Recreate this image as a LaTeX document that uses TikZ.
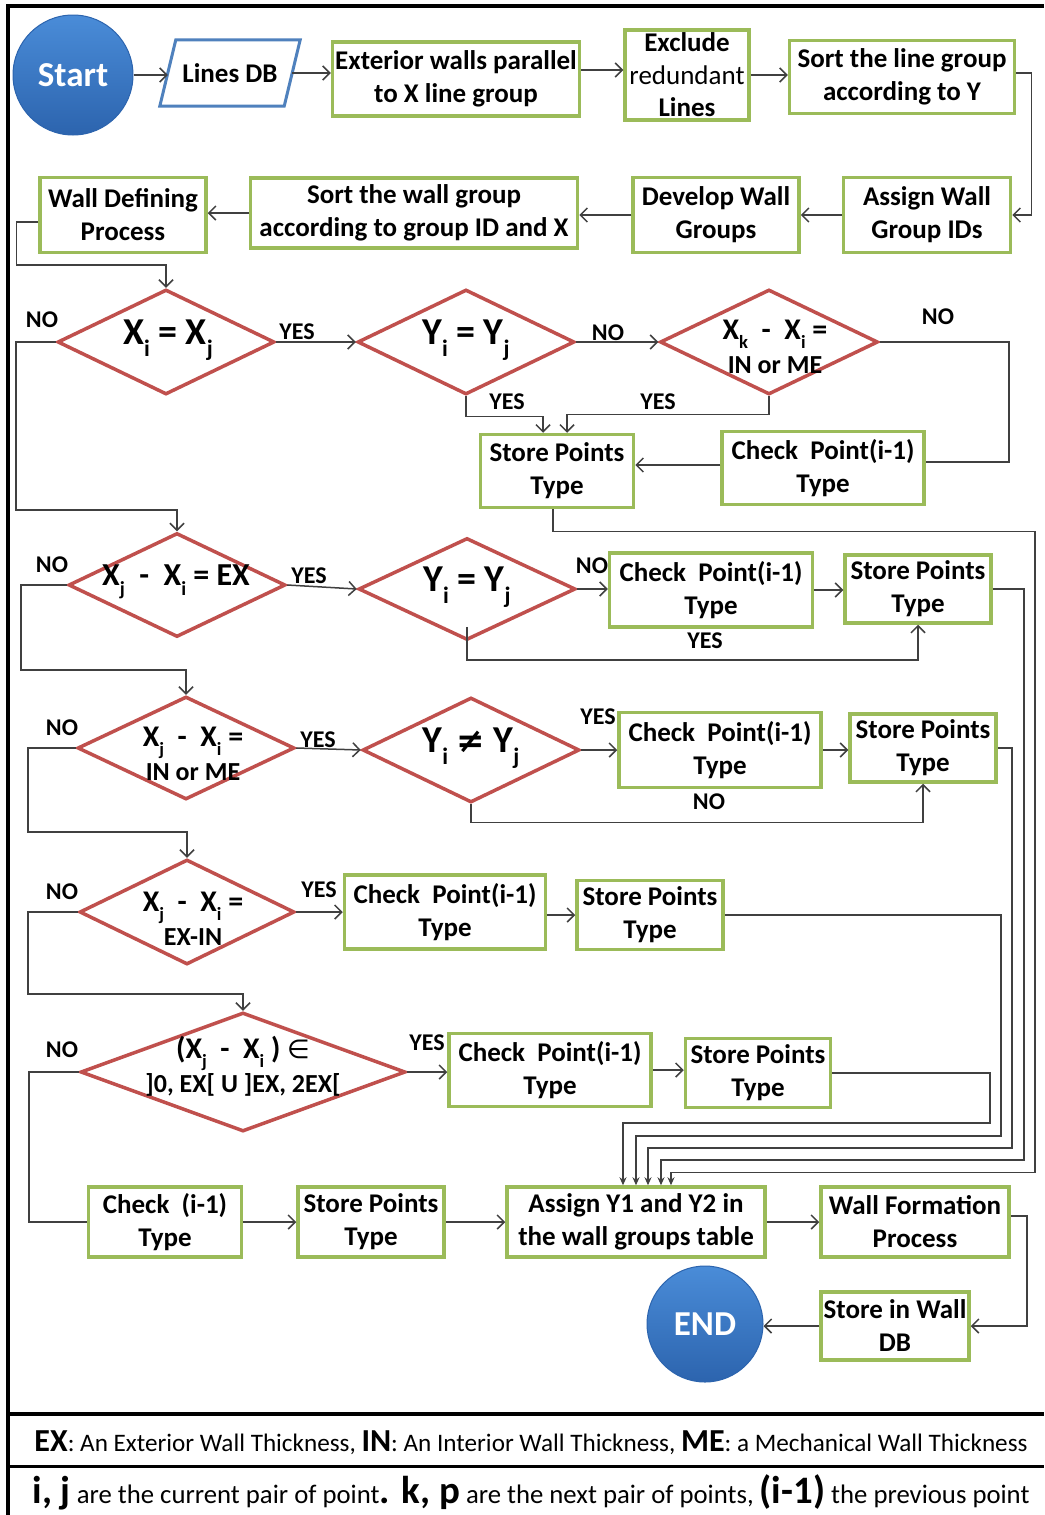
\documentclass[tikz,border=0pt]{standalone}
\usepackage{fontspec}
\setmainfont{Carlito}
\newfontfamily\symfont{DejaVu Sans}
\usepackage{graphicx}
\usetikzlibrary{shapes.geometric,arrows.meta,calc}
\definecolor{bgreen}{HTML}{9BBB59}
\definecolor{dred}{HTML}{C0504D}
\definecolor{pblue}{HTML}{4F81BD}
\definecolor{lineg}{HTML}{404040}
\definecolor{ctop}{HTML}{4A8CD8}
\definecolor{cbot}{HTML}{2C64AE}
\newcommand{\sbs}[1]{\raisebox{-0.3em}{\scalebox{0.62}{#1}}}
\newcommand{\bxfont}{\fontsize{27}{33}\selectfont\bfseries}
\begin{document}
\begin{tikzpicture}[x=1pt,y=-1pt,
  box/.style={draw=bgreen, line width=3.5pt, fill=white, inner sep=0.5pt, align=center, font=\bxfont, text=black},
  dia/.style={diamond, draw=dred, line width=3.5pt, inner sep=0pt, fill=white},
  dtext/.style={align=center, inner sep=0pt, text=black},
  lbl/.style={font=\fontsize{24}{28}\selectfont\bfseries, inner sep=0pt, text=black},
  arr/.style={draw=lineg, line width=1.5pt, -{Straight Barb[length=7pt,width=14pt]}},
  ln/.style={draw=lineg, line width=1.5pt},
  marr/.style={draw=lineg, line width=1.5pt, -{Stealth[length=8pt,width=7pt]}},
  circ/.style={circle, inner sep=0pt, minimum size=#1, top color=ctop, bottom color=cbot, draw=cbot, line width=1pt, text=white, font=\fontsize{35}{40}\selectfont\bfseries},
  frame/.style={draw=black, line width=4pt}
]
\useasboundingbox (0,0) rectangle (1044,1515);
\fill[white] (0,0) rectangle (1044,1515);

% frame
\draw[frame] (8,1515) -- (8,6) -- (1044,6);
\draw[frame] (8,1414) -- (1044,1414);
\draw[draw=black, line width=3pt] (8,1466) -- (1044,1466);

% row 1
\node[circ=120] (start) at (73,75) {Start};
\node[inner sep=0pt, minimum width=124pt, minimum height=66pt, font=\bxfont] (ldb) at (230,73) {Lines DB};
\draw[draw=pblue, line width=3pt] ([xshift=8pt]ldb.north west) -- ([xshift=8pt]ldb.north east) -- ([xshift=-8pt]ldb.south east) -- ([xshift=-8pt]ldb.south west) -- cycle;
\node[box, minimum width=247pt, minimum height=74pt] (ext) at (456,79) {Exterior walls parallel\\to X line group};
\node[box, minimum width=124pt, minimum height=90pt, font=\fontsize{27}{32.5}\selectfont\bfseries] (excl) at (687,75) {Exclude\\\mdseries redundant\\Lines};
\node[box, minimum width=225pt, minimum height=73pt] (sortY) at (902,77) {Sort the line group\\according to Y};

% row 2
\node[box, minimum width=166pt, minimum height=75pt] (wdp) at (123,215) {Wall Defining\\Process};
\node[box, minimum width=327pt, minimum height=70pt] (sortW) at (414,213) {Sort the wall group\\according to group ID and X};
\node[box, minimum width=166pt, minimum height=75pt] (dev) at (716,215) {Develop Wall\\Groups};
\node[box, minimum width=167pt, minimum height=75pt] (assignID) at (927,215) {Assign Wall\\Group IDs};

% row 3
\node[dia, minimum width=217pt, minimum height=105pt] (d1) at (166,342) {};
\node[dtext, font=\fontsize{38}{40}\selectfont\bfseries] (d1t) at (168,340) {X\sbs{i} = X\sbs{j}};
\node[dia, minimum width=217pt, minimum height=105pt] (d2) at (466,342) {};
\node[dtext, font=\fontsize{38}{40}\selectfont\bfseries] (d2t) at (466,340) {Y\sbs{i} = Y\sbs{j}};
\node[dia, minimum width=218pt, minimum height=105pt] (d3) at (769,342) {};
\node[dtext, font=\fontsize{30}{34}\selectfont\bfseries] (d3t) at (775,347) {X\sbs{k}\ \ -\ \ X\sbs{i} =\\\fontsize{26}{30}\selectfont IN or ME};
\node[box, minimum width=153pt, minimum height=73pt] (st1) at (557,471) {Store Points\\Type};
\node[box, minimum width=202pt, minimum height=73pt] (chk1) at (823,468) {Check\ \ Point(i-1)\\Type};

% row 4
\node[dia, minimum width=217pt, minimum height=104pt] (d4) at (177,585) {};
\node[dtext, font=\fontsize{32}{36}\selectfont\bfseries] (d4t) at (176,582) {X\sbs{j}\ \ -\ \ X\sbs{i} = EX};
\node[dia, minimum width=217pt, minimum height=102pt] (d5) at (467,589) {};
\node[dtext, font=\fontsize{38}{40}\selectfont\bfseries] (d5t) at (467,587) {Y\sbs{i} = Y\sbs{j}};
\node[box, minimum width=203pt, minimum height=74pt] (chk2) at (711,590) {Check\ \ Point(i-1)\\Type};
\node[box, minimum width=146pt, minimum height=68pt] (st2) at (918,589) {Store Points\\Type};

% row 5
\node[dia, minimum width=217pt, minimum height=103pt] (d6) at (186,748) {};
\node[dtext, font=\fontsize{30}{34}\selectfont\bfseries] (d6t) at (193,754) {X\sbs{j}\ \ -\ \ X\sbs{i} =\\\fontsize{26}{30}\selectfont IN or ME};
\node[dia, minimum width=217pt, minimum height=105pt] (d7) at (471,750) {};
\node[dtext, font=\fontsize{38}{40}\selectfont\bfseries] (d7t) at (471,748) {Y\sbs{i} {\symfont\bfseries\fontsize{34}{40}\selectfont ≠} Y\sbs{j}};
\node[box, minimum width=202pt, minimum height=75pt] (chk3) at (720,750) {Check\ \ Point(i-1)\\Type};
\node[box, minimum width=146pt, minimum height=68pt] (st3) at (923,748) {Store Points\\Type};

% row 6
\node[dia, minimum width=215pt, minimum height=105pt] (d8) at (187,912) {};
\node[dtext, font=\fontsize{30}{34}\selectfont\bfseries] (d8t) at (193,919) {X\sbs{j}\ \ -\ \ X\sbs{i} =\\\fontsize{26}{30}\selectfont EX-IN};
\node[box, minimum width=201pt, minimum height=74pt] (chk4) at (445,912) {Check\ \ Point(i-1)\\Type};
\node[box, minimum width=146pt, minimum height=69pt] (st4) at (650,915) {Store Points\\Type};

% row 7
\node[dia, minimum width=325pt, minimum height=119pt] (d9) at (243,1072) {};
\node[dtext, font=\fontsize{30}{34}\selectfont\bfseries] (d9t) at (243,1066) {(X\sbs{j}\ \ -\ \ X\sbs{i} ) {\symfont\mdseries\fontsize{26}{30}\selectfont ∈}\\\fontsize{26}{30}\selectfont ]0, EX[ U ]EX, 2EX[};
\node[box, minimum width=202pt, minimum height=73pt] (chk5) at (550,1070) {Check\ \ Point(i-1)\\Type};
\node[box, minimum width=145pt, minimum height=69pt] (st5) at (758,1073) {Store Points\\Type};

% row 8
\node[box, minimum width=153pt, minimum height=70pt] (chk6) at (165,1222) {Check\ \ (i-1)\\Type};
\node[box, minimum width=146pt, minimum height=70pt] (st6) at (371,1222) {Store Points\\Type};
\node[box, minimum width=258pt, minimum height=70pt] (assign) at (636,1222) {Assign Y1 and Y2 in\\the wall groups table};
\node[box, minimum width=188pt, minimum height=70pt] (wfp) at (915,1222) {Wall Formation\\Process};
\node[box, minimum width=148pt, minimum height=68pt] (sdb) at (895,1326) {Store in Wall\\DB};
\node[circ=116] (endc) at (705,1324) {END};

% labels
\node[lbl] (n1) at (42,320) {NO};
\node[lbl] (y1) at (297,332) {YES};
\node[lbl] (n2) at (608,333) {NO};
\node[lbl] (n3) at (938,317) {NO};
\node[lbl] (y2) at (507,402) {YES};
\node[lbl] (y3) at (658,402) {YES};
\node[lbl] (n4) at (52,565) {NO};
\node[lbl] (y4) at (309,576) {YES};
\node[lbl] (n5) at (592,566) {NO};
\node[lbl] (y5) at (705,641) {YES};
\node[lbl] (n6) at (62,728) {NO};
\node[lbl] (y6) at (318,740) {YES};
\node[lbl] (y7) at (598,717) {YES};
\node[lbl] (n7) at (709,802) {NO};
\node[lbl] (n8) at (62,892) {NO};
\node[lbl] (y8) at (319,890) {YES};
\node[lbl] (n9) at (62,1050) {NO};
\node[lbl] (y9) at (427,1043) {YES};

% connectors row 1-2
\draw[arr] (start.east) -- (start.east -| ldb.west);
\draw[arr] (ldb.east) -- (ldb.east -| ext.west);
\draw[arr] ([yshift=9pt]ext.east) -- ([yshift=9pt]ext.east -| excl.west);
\draw[arr] (excl.east) -- (excl.east -| sortY.west);
\draw[arr] ([yshift=4pt]sortY.east) -- ++(15,0) |- (assignID.east);
\draw[arr] (assignID.west) -- (assignID.west -| dev.east);
\draw[arr] (dev.west) -- (dev.west -| sortW.east);
\draw[arr] (sortW.west) -- (sortW.west -| wdp.east);
\draw[arr] ([yshift=-7pt]wdp.west) -- ++(-22,0) -- ++(0,43) -| (d1.north);

% row 3
\draw[arr] (d1.east) -- (d2.west);
\draw[arr] (d2.east) -- (d3.west);
\draw[ln] (d3.east) -- ++(129,0) |- ([yshift=6pt]chk1.east);
\draw[arr] (d2.south) -- ++(0,20) -| ([xshift=-14pt]st1.north);
\draw[arr] (d3.south) -- ++(0,18) -| ([xshift=10pt]st1.north);
\draw[arr] ([yshift=3pt]chk1.west) -- ([yshift=3pt]chk1.west -| st1.east);
\draw[arr] (d1.west) -- ++(-40,0) -- ++(0,168) -| (d4.north);

% row 4
\draw[arr] (d4.east) -- (d5.west);
\draw[arr] (d5.east) -- (d5.east -| chk2.west);
\draw[arr] (chk2.east) -- (chk2.east -| st2.west);
\draw[arr] ([yshift=15pt]d5.south) -- ++(0,33) -| (st2.south);
\draw[arr] (d4.west) -- ++(-46,0) -- ++(0,85) -| (d6.north);

% row 5
\draw[arr] (d6.east) -- (d7.west);
\draw[arr] (d7.east) -- (d7.east -| chk3.west);
\draw[arr] (chk3.east) -- (chk3.east -| st3.west);
\draw[arr] (d7.south) -- ++(0,18) -| (st3.south);
\draw[arr] (d6.west) -- ++(-48,0) -- ++(0,84) -| (d8.north);

% row 6
\draw[arr] (d8.east) -- (d8.east -| chk4.west);
\draw[arr] ([yshift=-3pt]chk4.east) -- ([yshift=-3pt]chk4.east -| st4.west);
\draw[arr] (d8.west) -- ++(-50,0) -- ++(0,82) -| (d9.north);

% row 7
\draw[arr] (d9.east) -- (d9.east -| chk5.west);
\draw[arr] (chk5.east) -- (chk5.east -| st5.west);
\draw[ln] (d9.west) -- ++(-50,0) |- (chk6.west);

% row 8
\draw[arr] (chk6.east) -- (chk6.east -| st6.west);
\draw[arr] (st6.east) -- (st6.east -| assign.west);
\draw[arr] (assign.east) -- (assign.east -| wfp.west);
\draw[arr] ([yshift=6pt]wfp.east) -- ++(16,0) |- (sdb.east);
\draw[arr] (sdb.west) -- (sdb.west -| endc.east);

% merging lines
\draw[marr] (st5.east) -- ++(157.5,0) -- ++(0,50) -| ([xshift=-13pt]assign.north);
\draw[marr] (st4.east) -- ++(276,0) -- ++(0,221) -| (assign.north);
\draw[marr] (st3.east) -- ++(14,0) -- ++(0,400) -| ([xshift=12pt]assign.north);
\draw[marr] (st2.east) -- ++(31,0) -- ++(0,571) -| ([xshift=25pt]assign.north);
\draw[marr] ([xshift=-4pt]st1.south) -- ++(0,22) -- ++(482,0) -- ++(0,641) -| ([xshift=35pt]assign.north);

% legend
\node[inner sep=0pt, text=black] (leg1) at (531,1443) {\resizebox{993pt}{!}{\fontsize{22}{26}\selectfont{\fontsize{28}{30}\selectfont\bfseries EX}: An Exterior Wall Thickness, {\fontsize{28}{30}\selectfont\bfseries IN}: An Interior Wall Thickness, {\fontsize{28}{30}\selectfont\bfseries ME}: a Mechanical Wall Thickness}};
\node[inner sep=0pt, text=black] (leg2) at (531,1492) {\resizebox{997pt}{!}{\fontsize{22}{26}\selectfont{\fontsize{32}{34}\selectfont\bfseries i, j} are the current pair of point{\fontsize{32}{34}\selectfont\bfseries . k, p} are the next pair of points, {\fontsize{32}{34}\selectfont\bfseries (i-1)} the previous point}};
\end{tikzpicture}
\end{document}
